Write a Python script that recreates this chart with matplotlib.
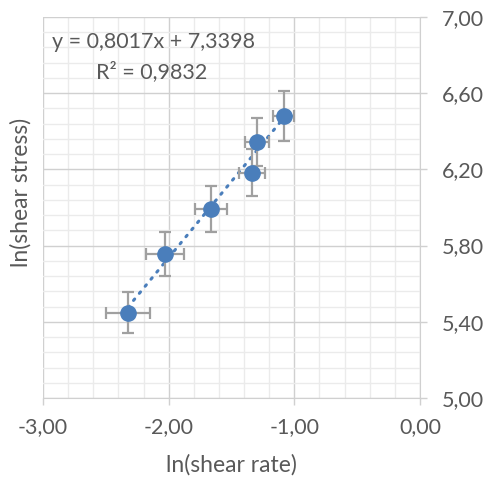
import numpy as np
import matplotlib
matplotlib.use('Agg')
import matplotlib.pyplot as plt
from matplotlib.ticker import FixedLocator, FuncFormatter

plt.rcParams['font.family'] = ['Lato', 'DejaVu Sans']

# data
ln_rate = [-2.326, -2.029, -1.664, -1.337, -1.298, -1.085]
ln_stress = [5.448, 5.754, 5.992, 6.183, 6.344, 6.480]
x_err = [0.174, 0.152, 0.125, 0.101, 0.098, 0.082]
y_err = [0.109, 0.115, 0.120, 0.124, 0.127, 0.130]
slope, intercept = 0.8017, 7.3398
eq_text = 'y = 0,8017x + 7,3398'
r2_text = 'R² = 0,9832'

TXT = '#595959'
BLUE = '#4a7ebb'

fig = plt.figure(figsize=(4.88, 4.84), dpi=100)
ax = fig.add_axes([0.0881, 0.1777, 0.7726, 0.7872])

ax.set_xlim(-3, 0)
ax.set_ylim(5, 7)
ax.xaxis.set_major_locator(FixedLocator(np.arange(-3, 0.01, 1.0)))
ax.xaxis.set_minor_locator(FixedLocator(np.arange(-3, 0.01, 0.2)))
ax.yaxis.set_major_locator(FixedLocator(np.arange(5, 7.01, 0.4)))
ax.yaxis.set_minor_locator(FixedLocator(np.arange(5, 7.01, 0.08)))
fmt = FuncFormatter(lambda v, p: ('%.2f' % v).replace('.', ','))
ax.xaxis.set_major_formatter(fmt)
ax.yaxis.set_major_formatter(fmt)

ax.grid(which='major', color='#d0d0d0', lw=1.0)
ax.grid(which='minor', color='#ebebeb', lw=1.0)
ax.set_axisbelow(True)
for s in ('top', 'left'):
    ax.spines[s].set_visible(False)
ax.spines['bottom'].set_color('#d0d0d0')
ax.spines['right'].set_color('#d0d0d0')

ax.yaxis.tick_right()
ax.tick_params(axis='both', which='major', colors='#d0d0d0', labelcolor=TXT,
               labelsize=15.5, length=5, width=1.0)
ax.tick_params(axis='x', which='major', pad=9)
ax.tick_params(axis='y', which='major', pad=11)
ax.tick_params(axis='both', which='minor', length=0)

# trendline
xs = np.array([min(ln_rate), max(ln_rate)])
ax.plot(xs, slope * xs + intercept, color=BLUE, lw=2.2, ls=(0, (0.6, 2.4)),
        dash_capstyle='round', zorder=2)

ax.errorbar(ln_rate, ln_stress, xerr=x_err, yerr=y_err, fmt='o', ms=11,
            color=BLUE, ecolor='#a0a0a0', elinewidth=1.6, capsize=4.5,
            capthick=1.6, zorder=3)

ax.text(0.025, 0.935, eq_text, transform=ax.transAxes, fontsize=15.5,
        color=TXT, va='center', ha='left')
ax.text(0.14, 0.857, r2_text, transform=ax.transAxes, fontsize=15.5,
        color=TXT, va='center', ha='left')

ax.set_xlabel('ln(shear rate)', fontsize=16.5, color=TXT, labelpad=12)
fig.text(0.042, 0.603, 'ln(shear stress)', rotation=90, fontsize=16.5,
         color=TXT, ha='center', va='center')

fig.savefig('out.png', dpi=100)
